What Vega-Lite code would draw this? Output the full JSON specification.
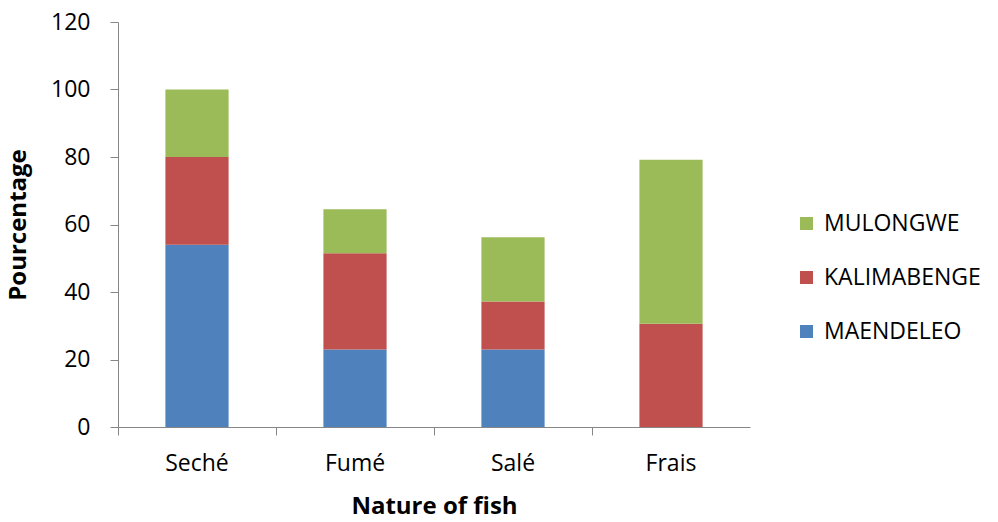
{
  "$schema": "https://vega.github.io/schema/vega-lite/v6.json",
  "width": 632,
  "height": 405,
  "autosize": {"type": "none"},
  "padding": {"left": 118, "top": 22, "right": 248, "bottom": 95},
  "background": "white",
  "config": {
    "view": {"stroke": null},
    "font": "Open Sans",
    "axis": {
      "domainColor": "#868686",
      "tickColor": "#868686",
      "labelColor": "#000000",
      "titleColor": "#000000",
      "labelFont": "Open Sans",
      "titleFont": "Open Sans",
      "labelFontSize": 23,
      "titleFontSize": 24,
      "titleFontWeight": "bold",
      "grid": false,
      "tickSize": 8
    },
    "legend": {"labelFont": "Open Sans", "labelFontSize": 23, "labelColor": "#000000"}
  },
  "data": {
    "values": [
      {"nature": "Seché", "site": "MAENDELEO", "pct": 54},
      {"nature": "Seché", "site": "KALIMABENGE", "pct": 26},
      {"nature": "Seché", "site": "MULONGWE", "pct": 20},
      {"nature": "Fumé", "site": "MAENDELEO", "pct": 23},
      {"nature": "Fumé", "site": "KALIMABENGE", "pct": 28.5},
      {"nature": "Fumé", "site": "MULONGWE", "pct": 13},
      {"nature": "Salé", "site": "MAENDELEO", "pct": 23},
      {"nature": "Salé", "site": "KALIMABENGE", "pct": 14.2},
      {"nature": "Salé", "site": "MULONGWE", "pct": 19},
      {"nature": "Frais", "site": "MAENDELEO", "pct": 0},
      {"nature": "Frais", "site": "KALIMABENGE", "pct": 30.6},
      {"nature": "Frais", "site": "MULONGWE", "pct": 48.6}
    ]
  },
  "transform": [
    {"calculate": "indexof(['MAENDELEO', 'KALIMABENGE', 'MULONGWE'], datum.site)", "as": "stackOrder"}
  ],
  "mark": {"type": "bar", "width": {"band": 0.4}},
  "encoding": {
    "x": {
      "field": "nature",
      "type": "nominal",
      "sort": ["Seché", "Fumé", "Salé", "Frais"],
      "scale": {"paddingInner": 0, "paddingOuter": 0},
      "axis": {
        "title": "Nature of fish",
        "labelAngle": 0,
        "bandPosition": 0,
        "labelBandPosition": 0.5,
        "labelPadding": 17,
        "titlePadding": 19
      }
    },
    "y": {
      "field": "pct",
      "type": "quantitative",
      "stack": "zero",
      "scale": {"domain": [0, 120], "nice": false},
      "axis": {
        "title": "Pourcentage",
        "values": [0, 20, 40, 60, 80, 100, 120],
        "labelPadding": 20,
        "titlePadding": 20
      }
    },
    "order": {"field": "stackOrder", "type": "quantitative", "sort": "ascending"},
    "color": {
      "field": "site",
      "type": "nominal",
      "scale": {
        "domain": ["MAENDELEO", "KALIMABENGE", "MULONGWE"],
        "range": ["#4F81BD", "#C0504D", "#9BBB59"]
      },
      "legend": {
        "title": null,
        "orient": "none",
        "legendX": 677,
        "legendY": 190,
        "values": ["MULONGWE", "KALIMABENGE", "MAENDELEO"],
        "symbolType": "square",
        "symbolSize": 169,
        "symbolStrokeWidth": 0,
        "labelOffset": 6,
        "rowPadding": 30
      }
    }
  }
}
